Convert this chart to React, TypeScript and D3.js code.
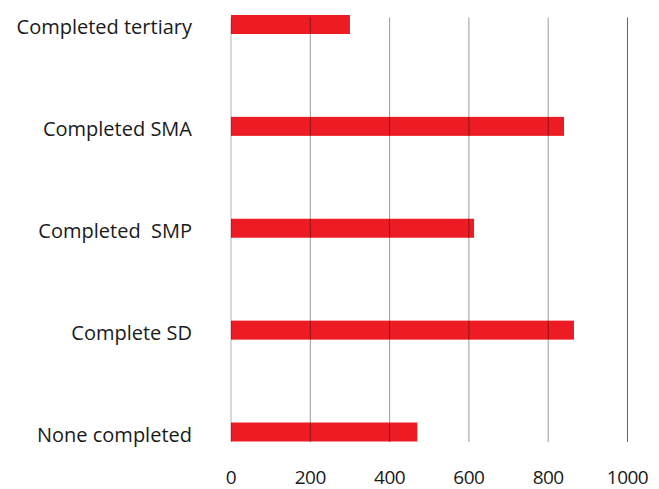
import React from "react";
import * as d3 from "d3";

const categories = ["Completed tertiary", "Completed SMA", "Completed  SMP", "Complete SD", "None completed"];
const values = [300, 840, 613, 865, 470];
const ticks = [0, 200, 400, 600, 800, 1000];

export default function App() {
  const W = 659, H = 489;
  const x = d3.scaleLinear().domain([0, 1000]).range([231, 627.5]);
  const y = d3.scalePoint<string>().domain(categories).range([24.5, 432]);
  const barH = 19;
  const font = "'Open Sans', sans-serif";
  return (
    <svg width={W} height={H} style={{ position: "absolute", left: 0, top: 0, background: "#fff" }}>
      {categories.map((c, i) => (
        <rect key={c} x={x(0)} y={(y(c) as number) - barH / 2} width={x(values[i]) - x(0)} height={barH} fill="#ED1C24" />
      ))}
      {ticks.map((t, i) => (
        <line key={t} x1={x(t)} x2={x(t)} y1={17.5} y2={442}
          stroke={i === 0 ? "rgba(0,0,0,0.2)" : i === ticks.length - 1 ? "rgba(0,0,0,0.6)" : "rgba(0,0,0,0.4)"}
          strokeWidth={i === 0 ? 1.5 : 1} />
      ))}
      {categories.map((c) => (
        <text key={c} x={192} y={(y(c) as number) + 9.5} textAnchor="end"
          fontFamily={font} fontSize={20} fill="#1a1a1a" style={{ whiteSpace: "pre" }}>{c}</text>
      ))}
      {ticks.map((t) => (
        <text key={t} x={x(t)} y={484} textAnchor="middle" fontFamily={font} fontSize={19} letterSpacing={-0.5} fill="#1a1a1a">{t}</text>
      ))}
    </svg>
  );
}
